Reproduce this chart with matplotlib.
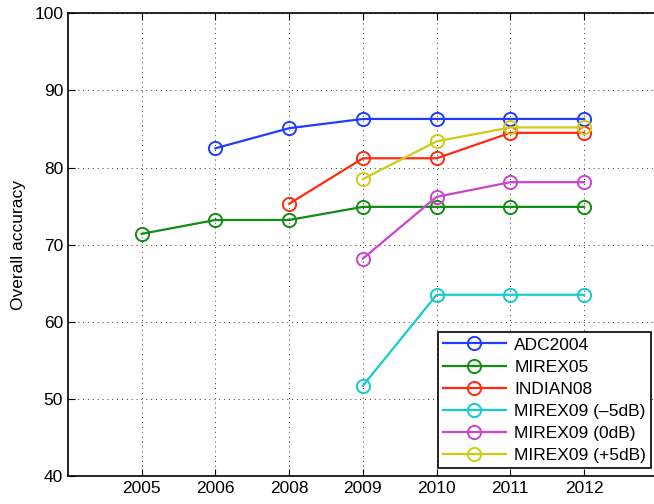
import matplotlib
matplotlib.use("Agg")
import matplotlib.pyplot as plt
import numpy as np

plt.rcParams["font.family"] = ["Liberation Sans", "DejaVu Sans"]

years = ["2005", "2006", "2008", "2009", "2010", "2011", "2012"]

# values per series, None where the collection did not exist yet
adc2004 = [None, 82.5, 85.1, 86.3, 86.3, 86.3, 86.3]
mirex05 = [71.4, 73.2, 73.2, 74.9, 74.9, 74.9, 74.9]
indian08 = [None, None, 75.3, 81.2, 81.2, 84.5, 84.5]
mirex09_m5 = [None, None, None, 51.7, 63.5, 63.5, 63.5]
mirex09_0 = [None, None, None, 68.2, 76.2, 78.1, 78.1]
mirex09_p5 = [None, None, None, 78.5, 83.4, 85.2, 85.2]

series = [
    ("ADC2004", adc2004, "#1f3dff"),
    ("MIREX05", mirex05, "#128c12"),
    ("INDIAN08", indian08, "#ff2a10"),
    ("MIREX09 (\u20135dB)", mirex09_m5, "#14cccc"),
    ("MIREX09 (0dB)", mirex09_0, "#cc44cc"),
    ("MIREX09 (+5dB)", mirex09_p5, "#cccc14"),
]

fig = plt.figure(figsize=(6.54, 5.04), dpi=100)
ax = fig.add_axes([0.104, 0.0556, 0.93, 0.918])

x = np.arange(1, len(years) + 1)
for label, vals, color in series:
    xs = [xi for xi, v in zip(x, vals) if v is not None]
    ys = [v for v in vals if v is not None]
    ax.plot(xs, ys, color=color, linewidth=1.6, marker="o", markersize=9.5,
            markerfacecolor="none", markeredgewidth=1.4, label=label)

ax.set_xlim(0, 8.25)
ax.set_ylim(40, 100)
ax.set_xticks(x)
ax.set_xticklabels(years)
ax.set_yticks(np.arange(40, 101, 10))
ax.tick_params(direction="in", top=True, right=True, labelsize=12.5, length=5)
ax.grid(True, linestyle=(0, (1, 4)), color="#333333", linewidth=0.7)
ax.set_ylabel("Overall accuracy", fontsize=12.5, labelpad=6)
for s in ax.spines.values():
    s.set_linewidth(1.2)

leg = ax.legend(loc="lower right", bbox_to_anchor=(0.996, 0.071),
                bbox_transform=fig.transFigure, fontsize=12.5, fancybox=False,
                framealpha=1, edgecolor="black", handlelength=3.6,
                borderpad=0.3, labelspacing=0.4, handletextpad=0.5,
                borderaxespad=0)
leg.get_frame().set_linewidth(1.2)

fig.savefig("out.png", dpi=100)
